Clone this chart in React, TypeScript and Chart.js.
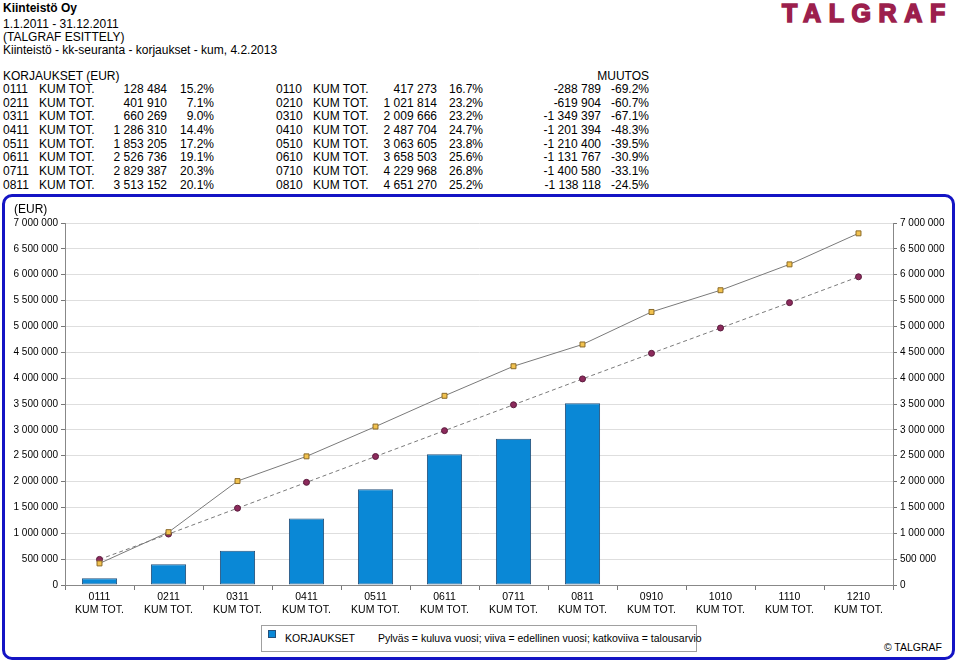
import React, { useEffect, useRef } from "react";
import { Chart, registerables } from "chart.js";

Chart.register(...registerables);

const categories = ["0111", "0211", "0311", "0411", "0511", "0611", "0711", "0811", "0910", "1010", "1110", "1210"];
const currentCodes = ["0111", "0211", "0311", "0411", "0511", "0611", "0711", "0811"];
const previousCodes = ["0110", "0210", "0310", "0410", "0510", "0610", "0710", "0810"];
const currentYear = [128484, 401910, 660269, 1286310, 1853205, 2526736, 2829387, 3513152];
const currentPct = ["15.2%", "7.1%", "9.0%", "14.4%", "17.2%", "19.1%", "20.3%", "20.1%"];
const previousYear = [417273, 1021814, 2009666, 2487704, 3063605, 3658503, 4229968, 4651270, 5280000, 5700000, 6200000, 6800000];
const previousPct = ["16.7%", "23.2%", "23.2%", "24.7%", "23.8%", "25.6%", "26.8%", "25.2%"];
const changeValues = [-288789, -619904, -1349397, -1201394, -1210400, -1131767, -1400580, -1138118];
const changePct = ["-69.2%", "-60.7%", "-67.1%", "-48.3%", "-39.5%", "-30.9%", "-33.1%", "-24.5%"];
const budget = [495000, 985000, 1485000, 1985000, 2485000, 2985000, 3485000, 3985000, 4480000, 4970000, 5460000, 5960000];
const yTicksMax = 7000000;
const yTickStep = 500000;

const FONT = "'Liberation Sans', Arial, Helvetica, sans-serif";

function fmt(n: number): string {
  const s = Math.abs(Math.round(n)).toString().replace(/\B(?=(\d{3})+(?!\d))/g, " ");
  return (n < 0 ? "-" : "") + s;
}

const rowTops = [89, 103, 116, 130, 144, 157, 171, 185];

function T(props: { x: number; y: number; right?: boolean; bold?: boolean; children: React.ReactNode; size?: number }) {
  const style: React.CSSProperties = {
    position: "absolute",
    top: props.y - 7,
    lineHeight: "14px",
    fontSize: props.size ?? 12,
    fontWeight: props.bold ? "bold" : "normal",
    whiteSpace: "pre",
    color: "#000",
  };
  if (props.right) {
    style.right = 959 - props.x;
    style.textAlign = "right";
  } else {
    style.left = props.x;
  }
  return <div style={style}>{props.children}</div>;
}

export default function App() {
  const ref = useRef<HTMLCanvasElement | null>(null);

  useEffect(() => {
    if (!ref.current) return;
    const tickFont = { family: FONT, size: 10 };
    const chart = new Chart(ref.current, {
      type: "bar",
      data: {
        labels: categories.map((c) => [c, "KUM TOT."]),
        datasets: [
          {
            type: "line",
            label: "Edellinen vuosi",
            data: previousYear,
            borderColor: "#7a7a7a",
            borderWidth: 1,
            pointStyle: "rect",
            pointRadius: 3.5,
            pointBackgroundColor: "#f2c24e",
            pointBorderColor: "#8a6a2a",
            pointBorderWidth: 1,
            order: 1,
            yAxisID: "y",
          },
          {
            type: "line",
            label: "Talousarvio",
            data: budget,
            borderColor: "#7a7a7a",
            borderWidth: 1,
            borderDash: [4, 3],
            pointStyle: "circle",
            pointRadius: 3,
            pointBackgroundColor: "#8c2a5c",
            pointBorderColor: "#5a1a3c",
            pointBorderWidth: 1,
            order: 2,
            yAxisID: "y",
          },
          {
            type: "bar",
            label: "KORJAUKSET",
            data: currentYear,
            backgroundColor: "#0a88d6",
            borderColor: "#24507a",
            borderWidth: 1,
            borderSkipped: false,
            barPercentage: 0.51,
            categoryPercentage: 1,
            order: 3,
            yAxisID: "y",
          },
        ],
      },
      options: {
        animation: false,
        responsive: false,
        maintainAspectRatio: false,
        layout: { padding: { top: 28, left: 0, right: 0, bottom: 0 } },
        plugins: { legend: { display: false }, tooltip: { enabled: false } },
        scales: {
          x: {
            type: "category",
            offset: true,
            grid: { offset: true, drawOnChartArea: false, drawTicks: true, tickLength: 5, tickColor: "#777" },
            border: { color: "#888" },
            ticks: { font: { family: FONT, size: 10.5 }, color: "#000", maxRotation: 0, autoSkip: false, padding: 1 },
            afterFit: (s: any) => { s.height = 40; },
          },
          y: {
            position: "left",
            min: 0,
            max: yTicksMax,
            ticks: { stepSize: yTickStep, font: tickFont, color: "#000", padding: 3, callback: (v: any) => fmt(Number(v)) },
            grid: { color: "#dedede", tickColor: "#777", tickLength: 4 },
            border: { color: "#888" },
            afterFit: (s: any) => { s.width = 65; },
          },
          y2: {
            position: "right",
            min: 0,
            max: yTicksMax,
            ticks: { stepSize: yTickStep, font: tickFont, color: "#000", padding: 3, callback: (v: any) => fmt(Number(v)) },
            grid: { drawOnChartArea: false, tickColor: "#777", tickLength: 4 },
            border: { color: "#888" },
            afterFit: (s: any) => { s.width = 66; },
          },
        },
      } as any,
    });
    return () => chart.destroy();
  }, []);

  return (
    <div style={{ position: "absolute", left: 0, top: 0, width: 959, height: 660, fontFamily: FONT, background: "#fff", overflow: "hidden" }}>
      <T x={3} y={8} bold>Kiinteistö Oy</T>
      <T x={3} y={24}>1.1.2011 - 31.12.2011</T>
      <T x={3} y={37}>(TALGRAF ESITTELY)</T>
      <T x={3} y={50}>Kiinteistö - kk-seuranta - korjaukset - kum, 4.2.2013</T>
      <div style={{ position: "absolute", left: 782, top: -1, fontSize: 25, lineHeight: "28px", fontWeight: "bold", letterSpacing: "7.6px", color: "#9c1f4d", WebkitTextStroke: "1.6px #9c1f4d", whiteSpace: "pre" }}>TALGRAF</div>
      <T x={3} y={76}>KORJAUKSET (EUR)</T>
      <T x={649} y={76} right>MUUTOS</T>
      {currentCodes.map((code, i) => {
        const y = rowTops[i];
        return (
          <React.Fragment key={code}>
            <T x={3} y={y}>{code}</T>
            <T x={39} y={y}>KUM TOT.</T>
            <T x={167} y={y} right>{fmt(currentYear[i])}</T>
            <T x={214} y={y} right>{currentPct[i]}</T>
            <T x={276} y={y}>{previousCodes[i]}</T>
            <T x={313} y={y}>KUM TOT.</T>
            <T x={437} y={y} right>{fmt(previousYear[i])}</T>
            <T x={483} y={y} right>{previousPct[i]}</T>
            <T x={601} y={y} right>{fmt(changeValues[i])}</T>
            <T x={649} y={y} right>{changePct[i]}</T>
          </React.Fragment>
        );
      })}
      <div style={{ position: "absolute", left: 2, top: 194, width: 953, height: 466, boxSizing: "border-box", border: "3px solid #1414c4", borderRadius: 10 }} />
      <canvas ref={ref} width={959} height={430} style={{ position: "absolute", left: 0, top: 195, width: 959, height: 430 }} />
      <T x={14} y={209}>(EUR)</T>
      <div style={{ position: "absolute", left: 261, top: 625, width: 436, height: 27, boxSizing: "border-box", border: "1px solid #a0a0a0", background: "#fff" }}>
        <div style={{ position: "absolute", left: 6, top: 4, width: 6, height: 6, background: "#0a88d6", border: "1px solid #24507a" }} />
        <div style={{ position: "absolute", left: 23, top: 6, fontSize: 10.5, lineHeight: "13px", whiteSpace: "pre" }}>KORJAUKSET</div>
        <div style={{ position: "absolute", left: 116, top: 6, fontSize: 10.5, lineHeight: "13px", whiteSpace: "pre" }}>Pylväs = kuluva vuosi; viiva = edellinen vuosi; katkoviiva = talousarvio</div>
      </div>
      <div style={{ position: "absolute", right: 17, top: 640, fontSize: 10.5, lineHeight: "14px", whiteSpace: "pre" }}>© TALGRAF</div>
    </div>
  );
}
